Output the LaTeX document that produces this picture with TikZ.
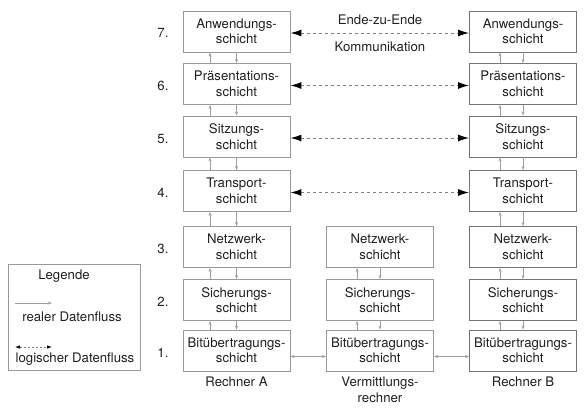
\documentclass[tikz,border=0pt]{standalone}
\usepackage{fontspec}
\setmainfont{TeX Gyre Heros}
\usetikzlibrary{arrows.meta}
\definecolor{boxgray}{gray}{0.6}
\definecolor{boxgrayB}{gray}{0.45}
\definecolor{flowgray}{gray}{0.62}
\definecolor{dashgray}{gray}{0.5}
\definecolor{txt}{gray}{0.12}
\begin{document}
\begin{tikzpicture}[x=1pt,y=-1pt,
  every node/.style={text=txt,font=\fontsize{13.2}{15.5}\selectfont,inner sep=0pt},
  layer/.style={draw=boxgray,line width=0.9pt,minimum width=107,minimum height=41,align=center},
  layerB/.style={layer,draw=boxgrayB},
  rownum/.style={anchor=center},
  real/.style={draw=flowgray,line width=0.6pt,-{Stealth[length=4pt,width=3pt]}},
  realboth/.style={draw=flowgray,line width=0.6pt,{Stealth[length=4pt,width=3pt]}-{Stealth[length=4pt,width=3pt]}},
  logic/.style={draw=dashgray,line width=1pt,dash pattern=on 3pt off 3pt,
    {Latex[length=11pt,width=7pt,black]}-{Latex[length=11pt,width=7pt,black]}},
  logicsmall/.style={draw=dashgray,line width=0.7pt,dash pattern=on 2pt off 2pt,
    {Latex[length=5pt,width=3.5pt,black]}-{Latex[length=5pt,width=3.5pt,black]}},
  legendbox/.style={draw=boxgray,line width=0.9pt,minimum width=132,minimum height=106}
]
\useasboundingbox (0,0) rectangle (588,410);

% Rechner A
\node[layer] (a7) at (236.5,31.5) {Anwendungs-\\schicht};
\node[layer] (a6) at (236.5,84) {Präsentations-\\schicht};
\node[layer] (a5) at (236.5,136.5) {Sitzungs-\\schicht};
\node[layer] (a4) at (236.5,191) {Transport-\\schicht};
\node[layer] (a3) at (236.5,247) {Netzwerk-\\schicht};
\node[layer] (a2) at (236.5,300) {Sicherungs-\\schicht};
\node[layer] (a1) at (236.5,350.5) {Bitübertragungs-\\schicht};

% Vermittlungsrechner
\node[layer] (m3) at (380,247) {Netzwerk-\\schicht};
\node[layer] (m2) at (380,300) {Sicherungs-\\schicht};
\node[layer] (m1) at (380,350.5) {Bitübertragungs-\\schicht};

% Rechner B
\node[layerB] (b7) at (523,31.5) {Anwendungs-\\schicht};
\node[layerB] (b6) at (523,84) {Präsentations-\\schicht};
\node[layerB] (b5) at (523,136.5) {Sitzungs-\\schicht};
\node[layerB] (b4) at (523,191) {Transport-\\schicht};
\node[layerB] (b3) at (523,247) {Netzwerk-\\schicht};
\node[layerB] (b2) at (523,300) {Sicherungs-\\schicht};
\node[layerB] (b1) at (523,350.5) {Bitübertragungs-\\schicht};

% row numbers
\node[rownum] (n7) at (163,33) {7.};
\node[rownum] (n6) at (163,86) {6.};
\node[rownum] (n5) at (163,139) {5.};
\node[rownum] (n4) at (163,193) {4.};
\node[rownum] (n3) at (163,249) {3.};
\node[rownum] (n2) at (163,302) {2.};
\node[rownum] (n1) at (163,353) {1.};

% vertical real flows
\foreach \u/\l in {7/6,6/5,5/4,4/3,3/2,2/1}{
  \draw[real] ([xshift=-26.5pt]a\l.north) -- ([xshift=-26.5pt]a\u.south);
  \draw[real] (a\u.south) -- (a\l.north);
  \draw[real] ([xshift=-23pt]b\l.north) -- ([xshift=-23pt]b\u.south);
  \draw[real] (b\u.south) -- (b\l.north);
}
\foreach \u/\l in {3/2,2/1}{
  \draw[real] ([xshift=-23pt]m\l.north) -- ([xshift=-23pt]m\u.south);
  \draw[real] (m\u.south) -- (m\l.north);
}

% horizontal real flows
\draw[realboth] ([yshift=-6pt]a1.east) -- ([yshift=-6pt]m1.west);
\draw[realboth] ([yshift=-6pt]m1.east) -- ([yshift=-6pt]b1.west);

% logical flows
\foreach \r in {7,6,5,4}{
  \draw[logic] ([yshift=-1.5pt]a\r.east) -- ([yshift=-1.5pt]b\r.west);
}
\node (ende) at (380,20) {Ende-zu-Ende};
\node (komm) at (380,47) {Kommunikation};

% bottom labels
\node (ra) at (236.5,382) {Rechner A};
\node[align=center] (vr) at (380,390) {Vermittlungs-\\rechner};
\node (rb) at (523,382) {Rechner B};

% legend
\node[legendbox] (leg) at (74,317) {};
\node (legt) at (64,276) {Legende};
\coordinate (l1a) at (15,303);
\coordinate (l1b) at (52,303);
\draw[real] (l1a) -- (l1b);
\node (legr) at (72,317) {realer Datenfluss};
\coordinate (l2a) at (15,347);
\coordinate (l2b) at (52,347);
\draw[logicsmall] (l2a) -- (l2b);
\node (legl) at (75,359) {logischer Datenfluss};
\end{tikzpicture}
\end{document}
